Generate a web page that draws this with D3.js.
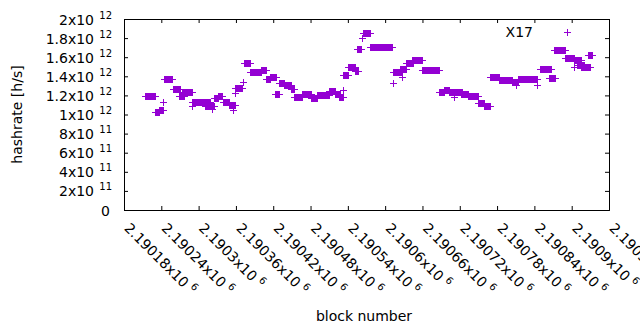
<!DOCTYPE html>
<html>
<head>
<meta charset="utf-8">
<script src="https://cdn.jsdelivr.net/npm/d3@7"></script>
<style>
    body { margin: 0; background: #fff; }
    text { font-family: "DejaVu Sans", sans-serif; font-size: 14px; fill: #000; }
</style>
</head>
<body>
<div id="chart"></div>
<script>
// runs of consecutive blocks with the same hashrate estimate (single blocks have start == end)
let runStart = [2190214, 2190230, 2190236, 2190243, 2190244, 2190258, 2190268, 2190273, 2190276, 2190290,
    2190290, 2190292, 2190311, 2190322, 2190324, 2190331, 2190339, 2190349, 2190355, 2190358,
    2190358, 2190371, 2190373, 2190382, 2190401, 2190408, 2190414, 2190423, 2190429, 2190437,
    2190448, 2190453, 2190466, 2190480, 2190490, 2190501, 2190509, 2190519, 2190525, 2190533,
    2190533, 2190541, 2190551, 2190554, 2190562, 2190565, 2190576, 2190613, 2190613, 2190627,
    2190624, 2190633, 2190643, 2190660, 2190687, 2190694, 2190702, 2190710, 2190711, 2190722,
    2190733, 2190750, 2190759, 2190769, 2190783, 2190804, 2190811, 2190813, 2190845, 2190849,
    2190864, 2190872, 2190889, 2190903, 2190903, 2190908, 2190915, 2190927];
let runEnd = [2190230, 2190236, 2190243, 2190243, 2190257, 2190270, 2190276, 2190281, 2190290, 2190303,
    2190290, 2190318, 2190324, 2190322, 2190331, 2190338, 2190349, 2190358, 2190355, 2190370,
    2190358, 2190371, 2190382, 2190401, 2190409, 2190414, 2190425, 2190430, 2190437, 2190449,
    2190453, 2190466, 2190480, 2190490, 2190501, 2190509, 2190519, 2190527, 2190532, 2190533,
    2190540, 2190551, 2190556, 2190561, 2190562, 2190576, 2190611, 2190613, 2190627, 2190627,
    2190634, 2190645, 2190660, 2190687, 2190695, 2190702, 2190710, 2190710, 2190724, 2190733,
    2190750, 2190759, 2190769, 2190783, 2190804, 2190813, 2190811, 2190844, 2190845, 2190866,
    2190873, 2190889, 2190904, 2190915, 2190903, 2190920, 2190930, 2190933];
// hashrate in units of 1e12 h/s
let runRate = [1.19, 1.026, 1.05, 1.128, 1.369, 1.264, 1.19, 1.22, 1.24, 1.134,
    1.09, 1.128, 1.092, 1.06, 1.17, 1.19, 1.126, 1.096, 1.05, 1.274,
    1.22, 1.337, 1.536, 1.448, 1.47, 1.37, 1.39, 1.21, 1.327, 1.306,
    1.27, 1.186, 1.21, 1.176, 1.20, 1.2, 1.243, 1.21, 1.18, 1.257,
    1.414, 1.494, 1.455, 1.683, 1.798, 1.85, 1.704, 1.327, 1.445, 1.396,
    1.476, 1.536, 1.567, 1.466, 1.232, 1.253, 1.239, 1.186, 1.239, 1.21,
    1.19, 1.117, 1.087, 1.39, 1.361, 1.34, 1.31, 1.37, 1.31, 1.473,
    1.38, 1.675, 1.595, 1.571, 1.50, 1.52, 1.494, 1.626];

let xTicks = [2190180, 2190240, 2190300, 2190360, 2190420, 2190480, 2190540,
    2190600, 2190660, 2190720, 2190780, 2190840, 2190900, 2190960];
let yTicks = [0, 2e11, 4e11, 6e11, 8e11, 1e12, 1.2e12, 1.4e12, 1.6e12, 1.8e12, 2e12];
let seriesName = "X17";

function sciParts(v) {
    // split a value into mantissa and power of ten, gnuplot style "1.2x10^12"
    if (v === 0) return ["0", ""];
    let e = Math.floor(Math.log10(v) + 1e-9);
    let m = +(v / Math.pow(10, e)).toFixed(5);
    return [m + "x10", String(e)];
}

function plusPath(x1, x2, y) {
    // union of "+" markers drawn from block x1 to x2 at the same height
    return "M" + (x1 - 3) + "," + y + "H" + (x2 + 4);
}

function graph(id) {
    let width = 640, height = 330;
    let left = 124, right = 609, top = 19, bottom = 210;
    let color = "#9400d3";

    let x = d3.scaleLinear().domain([2190180, 2190960]).range([left, right]);
    let y = d3.scaleLinear().domain([0, 2e12]).range([bottom, top]);

    let svg = d3.select(id).append("svg")
        .attr("width", width)
        .attr("height", height);

    // data runs: filled block from the vertical arms, line from the horizontal arms
    let runs = runStart.map((s, i) => ({ s: s, e: runEnd[i], v: runRate[i] * 1e12 }));
    let g = svg.append("g");
    runs.forEach((d) => {
        let x1 = Math.round(x(d.s)), x2 = Math.round(x(d.e));
        let yy = Math.round(y(d.v));
        g.append("rect")
            .attr("x", x1)
            .attr("y", yy - 3)
            .attr("width", Math.max(1, x2 - x1 + 1))
            .attr("height", 7)
            .style("fill", color);
        g.append("path")
            .attr("d", plusPath(x1, x2, yy + 0.5))
            .style("stroke", color)
            .style("stroke-width", 1)
            .style("fill", "none");
    });

    // axes with inward ticks on all four sides
    let tick = 4;
    let axB = svg.append("g").attr("transform", "translate(0," + bottom + ")")
        .call(d3.axisBottom(x).tickValues(xTicks).tickSize(-tick).tickPadding(0));
    svg.append("g").attr("transform", "translate(0," + top + ")")
        .call(d3.axisTop(x).tickValues(xTicks).tickSize(-tick).tickFormat(""));
    let axL = svg.append("g").attr("transform", "translate(" + left + ",0)")
        .call(d3.axisLeft(y).tickValues(yTicks).tickSize(-tick).tickPadding(0));
    svg.append("g").attr("transform", "translate(" + right + ",0)")
        .call(d3.axisRight(y).tickValues(yTicks).tickSize(-tick).tickFormat(""));
    svg.selectAll(".domain").style("stroke", "#000").style("stroke-width", 1);
    svg.selectAll(".tick line").style("stroke", "#000");
    svg.selectAll(".tick text").remove();

    // y tick labels, right aligned, with superscript powers
    axL.selectAll(".tick").each(function (d) {
        let p = sciParts(d);
        let t = d3.select(this).append("text")
            .attr("x", p[1] ? -30 : -14)
            .attr("y", 5)
            .attr("text-anchor", "end")
            .style("font-size", "14px")
            .style("font-family", "DejaVu Sans")
            .text(p[0]);
        if (p[1]) {
            d3.select(this).append("text")
                .attr("x", -12)
                .attr("y", -1)
                .attr("text-anchor", "end")
                .style("font-size", "10px")
                .style("font-family", "DejaVu Sans")
                .text(p[1]);
        }
    });

    // x tick labels, rotated 45 degrees
    axB.selectAll(".tick").each(function (d) {
        let p = sciParts(d);
        let t = d3.select(this).append("text")
            .attr("transform", "translate(-1,19) rotate(45)")
            .attr("text-anchor", "start")
            .style("font-size", "14px")
            .style("font-family", "DejaVu Sans");
        t.append("tspan").text(p[0]);
        t.append("tspan").attr("dx", 4).attr("dy", -6).style("font-size", "10px").text(p[1]);
    });

    svg.append("text")
        .attr("transform", "translate(22," + (top + bottom) / 2 + ") rotate(-90)")
        .attr("text-anchor", "middle")
        .text("hashrate [h/s]");
    svg.append("text")
        .attr("x", 364)
        .attr("y", 321)
        .attr("text-anchor", "middle")
        .text("block number");

    // key
    svg.append("text")
        .attr("x", 533)
        .attr("y", 37)
        .attr("text-anchor", "end")
        .text(seriesName);
    svg.append("path")
        .attr("d", "M564,32.5H571M567.5,29V36")
        .style("stroke", color)
        .style("stroke-width", 1);
}

graph("#chart");
</script>
</body>
</html>
